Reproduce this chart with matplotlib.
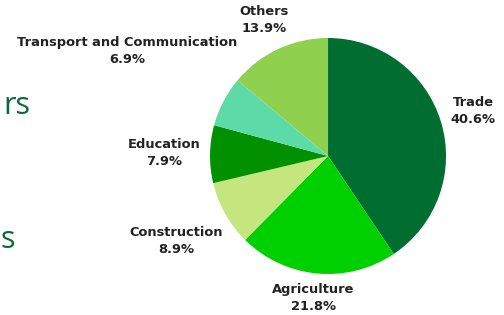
import matplotlib
matplotlib.use("Agg")
import matplotlib.pyplot as plt

categories = ["Trade", "Agriculture", "Construction", "Education", "Transport and Communication", "Others"]
values = [40.6, 21.8, 8.9, 7.9, 6.9, 13.9]
colors = ["#006e30", "#00d000", "#c5e57f", "#009000", "#5cdaa8", "#8fd14f"]
pct_labels = ["40.6%", "21.8%", "8.9%", "7.9%", "6.9%", "13.9%"]
# label centres in data units (pie radius = 1)
label_pos = [(1.229, 0.381), (-0.127, -1.203), (-1.288, -0.720),
             (-1.390, 0.025), (-1.703, 0.890), (-0.542, 1.153)]

fig = plt.figure(figsize=(5.04, 3.15), dpi=100)
fig.patch.set_facecolor("white")
ax = fig.add_axes([0.4167, 0.1302, 0.4683, 0.7492])
ax.pie(values, colors=colors, startangle=90, counterclock=False,
       wedgeprops=dict(linewidth=0))
ax.set_xlim(-1, 1)
ax.set_ylim(-1, 1)
ax.set_aspect("equal")
ax.axis("off")

for cat, pct, (x, y) in zip(categories, pct_labels, label_pos):
    ax.text(x, y, f"{cat}\n{pct}", ha="center", va="center", fontsize=9.4,
            fontweight="bold", color="#222222", linespacing=1.45,
            family="DejaVu Sans", clip_on=False)

# cut-off heading text at left edge
fig.text(30 / 504, 1 - 102 / 315, "rs", ha="right", va="center_baseline", fontsize=22,
         color="#0b6b3a", family="Open Sans")
fig.text(15 / 504, 1 - 236 / 315, "s", ha="right", va="center_baseline", fontsize=22,
         color="#0b6b3a", family="Open Sans")

fig.savefig("out.png", dpi=100)
